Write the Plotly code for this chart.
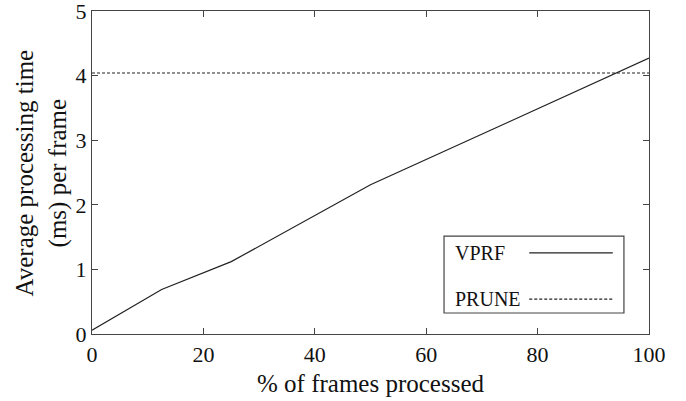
import plotly.graph_objects as go

# Data
frames_pct = [0, 12.5, 25, 50, 75, 100]
vprf_ms = [0.06, 0.69, 1.12, 2.31, 3.29, 4.27]
prune_ms = [4.04, 4.04]
prune_x = [0, 100]
x_ticks = [0, 20, 40, 60, 80, 100]
y_ticks = [0, 1, 2, 3, 4, 5]

FONT = "Liberation Serif, Times New Roman, serif"
INK = "#222222"
AXIS = "#444444"

fig = go.Figure()
fig.add_trace(go.Scatter(x=frames_pct, y=vprf_ms, mode="lines", name="VPRF",
                         line=dict(color=INK, width=1.2)))
fig.add_trace(go.Scatter(x=prune_x, y=prune_ms, mode="lines", name="PRUNE",
                         line=dict(color=INK, width=1.2, dash="3px,2px")))

fig.update_layout(
    width=686, height=401,
    margin=dict(l=92, r=37, t=11, b=67),
    paper_bgcolor="white", plot_bgcolor="white",
    showlegend=False,
    font=dict(family=FONT, color="#111111", size=22),
)
fig.update_xaxes(range=[0, 100], tickvals=x_ticks, ticks="inside", ticklen=6,
                 tickcolor=AXIS, showline=True, linecolor=AXIS, linewidth=1.2,
                 mirror="ticks", showgrid=False, zeroline=False, automargin=False,
                 ticklabeloverflow="allow", tickfont=dict(size=22))
fig.update_yaxes(range=[0, 5], tickvals=y_ticks, ticks="inside", ticklen=6,
                 tickcolor=AXIS, showline=True, linecolor=AXIS, linewidth=1.2,
                 mirror="ticks", showgrid=False, zeroline=False, automargin=False,
                 ticklabeloverflow="allow", tickfont=dict(size=22))

# Axis titles
fig.add_annotation(x=0.5, y=-0.152, xref="paper", yref="paper",
                   text="% of frames processed", showarrow=False,
                   xanchor="center", yanchor="middle",
                   font=dict(size=25, family=FONT, color="#111111"))
fig.add_annotation(x=-0.0898, y=0.5, xref="paper", yref="paper",
                   text="Average processing time<br>(ms) per frame", showarrow=False,
                   textangle=-90, xanchor="center", yanchor="middle",
                   font=dict(size=25, family=FONT, color="#111111"))

# Manual legend (text on the left, line sample on the right)
fig.add_shape(type="rect", xref="paper", yref="paper", x0=0.632, x1=0.955,
              y0=0.065, y1=0.303, line=dict(color=AXIS, width=1.2), fillcolor="white")
legend_names = ["VPRF", "PRUNE"]
legend_dash = ["solid", "3px,2px"]
legend_y = [0.251, 0.108]
for name, dash, yy in zip(legend_names, legend_dash, legend_y):
    fig.add_annotation(x=0.648, y=yy, xref="paper", yref="paper", text=name,
                       showarrow=False, xanchor="left", yanchor="middle",
                       font=dict(size=20, family=FONT, color="#111111"))
    fig.add_shape(type="line", xref="paper", yref="paper", x0=0.785, x1=0.935,
                  y0=yy, y1=yy, line=dict(color=INK, width=1.2, dash=dash))

fig.write_html("out.html", config={"displayModeBar": False},
               post_script="document.body.style.margin='0';document.body.style.padding='0';")
